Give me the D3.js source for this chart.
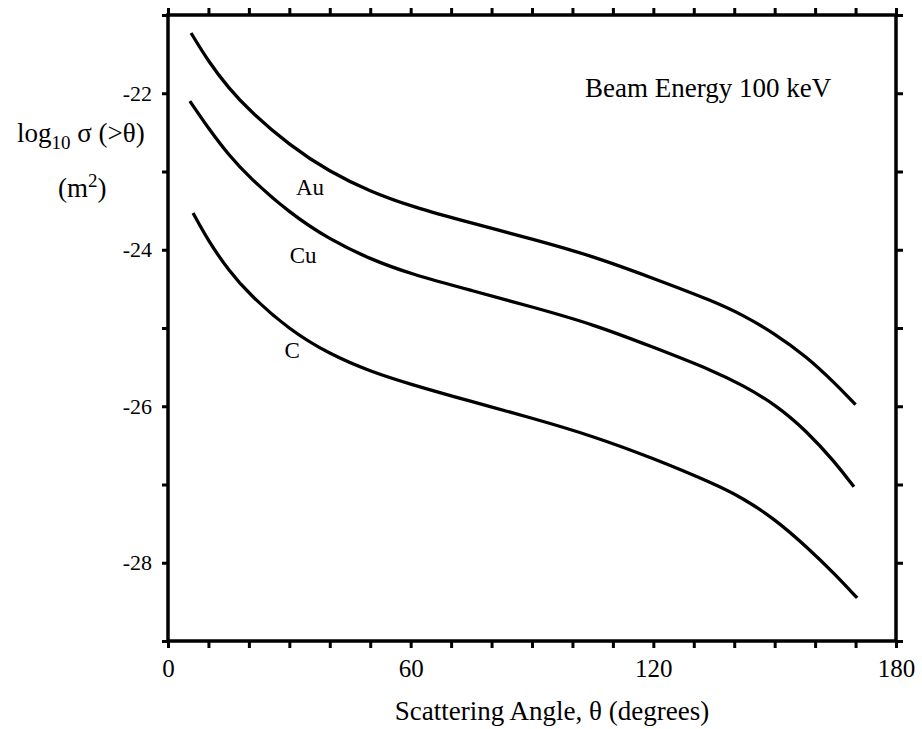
<!DOCTYPE html>
<meta charset="utf-8">
<title>Cross section vs scattering angle</title>
<script src="https://d3js.org/d3.v7.min.js"></script>
<style>
  body { margin: 0; background: #fff; }
  text { font-family: "Liberation Serif", "Times New Roman", serif; fill: #000; }
</style>
<body>
<svg width="922" height="729"></svg>
<script>

// values: scattering angle (deg) and log10 sigma (m^2)
var auAngle = [5.7, 10, 15, 20, 30, 40, 50, 60, 75, 90, 105, 120, 135, 142, 150, 158, 165, 170];
var auLog   = [-21.23, -21.595, -21.935, -22.215, -22.665, -23.005, -23.255, -23.445, -23.66, -23.86, -24.08, -24.365, -24.66, -24.83, -25.07, -25.37, -25.71, -25.98];

var cuAngle = [5.4, 10, 15, 20, 30, 40, 50, 60, 75, 90, 105, 120, 135, 142, 150, 158, 165, 169.6];
var cuLog   = [-22.10, -22.45, -22.79, -23.07, -23.53, -23.87, -24.12, -24.31, -24.52, -24.73, -24.95, -25.245, -25.55, -25.73, -25.97, -26.32, -26.72, -27.03];

var cAngle = [6.2, 10, 15, 20, 30, 40, 50, 60, 75, 90, 105, 120, 135, 142, 150, 158, 165, 170.4];
var cLog   = [-23.53, -23.89, -24.265, -24.565, -25.025, -25.335, -25.555, -25.72, -25.94, -26.15, -26.38, -26.665, -26.99, -27.17, -27.44, -27.80, -28.15, -28.45];

var seriesNames = ["Au", "Cu", "C"];
// where each curve label sits (angle, log value at the baseline)
var labelAngle = [35.1, 33.4, 30.7];
var labelLog   = [-23.30, -24.17, -25.38];

var xTicks = d3.range(0, 181, 10);
var yTicks = d3.range(-29, -20, 1);

var font = "'Liberation Serif', 'Times New Roman', serif";

var svg = d3.select("svg"),
    margin = {top: 15, right: 26, bottom: 88, left: 168},
    width = 922 - margin.left - margin.right,
    height = 729 - margin.top - margin.bottom;

var g = svg.append("g")
    .attr("transform", "translate(" + margin.left + "," + margin.top + ")");

var x = d3.scaleLinear().domain([0, 180]).range([0, width]);
var y = d3.scaleLinear().domain([-29, -21]).range([height, 0]);

// axes: ticks all round, labels only on bottom and left
function styleAxis(sel) {
  sel.attr("font-family", font);
  sel.select(".domain").remove();
  sel.selectAll(".tick line").attr("stroke", "#000").attr("stroke-width", 3);
}

g.append("g")
    .attr("transform", "translate(0," + height + ")")
    .call(d3.axisBottom(x).tickValues(xTicks).tickSize(7).tickPadding(11)
      .tickFormat(function(d) { return d % 60 === 0 ? d : ""; }))
    .call(styleAxis)
  .selectAll("text")
    .style("font-size", "25px");

g.append("g")
    .call(d3.axisTop(x).tickValues(xTicks).tickSize(7).tickFormat(""))
    .call(styleAxis);

g.append("g")
    .call(d3.axisLeft(y).tickValues(yTicks).tickSize(6).tickPadding(10)
      .tickFormat(function(d) { return d % 2 === 0 ? "-" + Math.abs(d) : ""; }))
    .call(styleAxis)
  .selectAll("text")
    .style("font-size", "22px");

g.append("g")
    .attr("transform", "translate(" + width + ",0)")
    .call(d3.axisRight(y).tickValues(yTicks).tickSize(7).tickFormat(""))
    .call(styleAxis);

// frame
g.append("rect")
    .attr("width", width)
    .attr("height", height)
    .attr("fill", "none")
    .attr("stroke", "#000")
    .attr("stroke-width", 3.5);

// curves
var line = d3.line()
    .x(function(d) { return x(d[0]); })
    .y(function(d) { return y(d[1]); })
    .curve(d3.curveBasis);

var curves = [d3.zip(auAngle, auLog), d3.zip(cuAngle, cuLog), d3.zip(cAngle, cLog)];

g.selectAll(".curve")
  .data(curves)
  .enter().append("path")
    .attr("class", "curve")
    .attr("d", line)
    .attr("fill", "none")
    .attr("stroke", "#000")
    .attr("stroke-width", 3.3)
    .attr("stroke-linecap", "butt");

g.selectAll(".clabel")
  .data(seriesNames)
  .enter().append("text")
    .attr("class", "clabel")
    .attr("x", function(d, i) { return x(labelAngle[i]); })
    .attr("y", function(d, i) { return y(labelLog[i]); })
    .attr("text-anchor", "middle")
    .style("font-size", "23px")
    .text(function(d) { return d; });

g.append("text")
    .attr("x", 417)
    .attr("y", 82)
    .style("font-size", "27px")
    .text("Beam Energy 100 keV");

// axis titles
svg.append("text")
    .attr("x", 552)
    .attr("y", 720)
    .attr("text-anchor", "middle")
    .style("font-size", "27px")
    .text("Scattering Angle, θ (degrees)");

var ylab = svg.append("text")
    .attr("x", 17)
    .attr("y", 142)
    .style("font-size", "27px");
ylab.append("tspan").text("log");
ylab.append("tspan").attr("dy", 7).style("font-size", "19px").text("10");
ylab.append("tspan").attr("dy", -7).text(" σ (>θ)");

var unit = svg.append("text")
    .attr("x", 58)
    .attr("y", 197)
    .style("font-size", "27px");
unit.append("tspan").text("(m");
unit.append("tspan").attr("dy", -10).style("font-size", "19px").text("2");
unit.append("tspan").attr("dy", 10).text(")");

</script>
</body>
